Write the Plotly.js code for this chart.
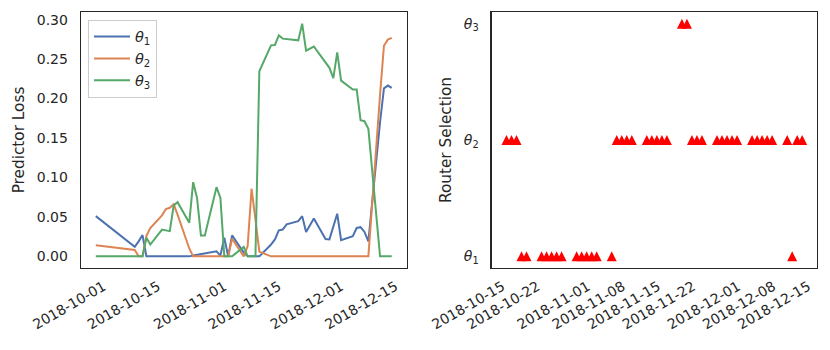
<!DOCTYPE html>
<html><head><meta charset="utf-8">
<script src="https://cdn.plot.ly/plotly-3.0.1.min.js"></script>
<style>html,body{margin:0;padding:0;background:#fff}</style>
</head><body><div id="chart" style="width:830px;height:350px"></div>
<script>
// ---- data ----
const lossDates = ['2018-09-28',
  '2018-10-08','2018-10-09','2018-10-10','2018-10-11','2018-10-12',
  '2018-10-15','2018-10-16','2018-10-17','2018-10-18','2018-10-19',
  '2018-10-22','2018-10-23','2018-10-24','2018-10-25','2018-10-26',
  '2018-10-29','2018-10-30','2018-10-31','2018-11-01','2018-11-02',
  '2018-11-05','2018-11-06','2018-11-07','2018-11-08','2018-11-09',
  '2018-11-12','2018-11-13','2018-11-14','2018-11-15','2018-11-16',
  '2018-11-19','2018-11-20','2018-11-21','2018-11-23',
  '2018-11-26','2018-11-27','2018-11-28','2018-11-29','2018-11-30',
  '2018-12-03','2018-12-04','2018-12-05','2018-12-06','2018-12-07',
  '2018-12-10','2018-12-11','2018-12-12','2018-12-13'];
const lossTheta1 = [0.051,
  0.012,0.019,0.027,0.0,0.0,
  0.0,0.0,0.0,0.0,0.0,
  0.0,0.001,0.002,0.003,0.004,
  0.0063,0.001,0.0236,0.0,0.0266,
  0.0047,0.0,0.0,0.0,0.0,
  0.015,0.0215,0.033,0.034,0.0405,
  0.0447,0.051,0.031,0.048,
  0.022,0.0215,0.038,0.054,0.0206,
  0.0257,0.036,0.037,0.031,0.019,
  0.17,0.213,0.2165,0.2135];
const lossTheta2 = [0.014,
  0.008,0.0,0.0,0.026,0.036,
  0.052,0.06,0.0616,0.066,0.053,
  0.01,0.0,0.0,0.0,0.0,
  0.0,0.0,0.0,0.0,0.0224,
  0.0,0.013,0.0857,0.047,0.006,
  0.0,0.0,0.0,0.0,0.0,
  0.0,0.0,0.0,0.0,
  0.0,0.0,0.0,0.0,0.0,
  0.0,0.0,0.0,0.0,0.0,
  0.205,0.267,0.2747,0.277];
const lossTheta3 = [0.0,
  0.0,0.0,0.0,0.0236,0.015,
  0.034,0.033,0.032,0.0645,0.0687,
  0.0426,0.094,0.074,0.0266,0.0266,
  0.0877,0.074,0.0,0.0,0.0,
  0.012,0.0,0.0,0.0,0.2346,
  0.2675,0.268,0.28,0.276,0.2755,
  0.2738,0.295,0.2608,0.266,
  0.246,0.239,0.226,0.2586,0.2228,
  0.2114,0.2114,0.1725,0.1713,0.1616,
  0.0,0.0,0.0,0.0];

const selDates = [
  '2018-10-15','2018-10-16','2018-10-17','2018-10-18','2018-10-19',
  '2018-10-22','2018-10-23','2018-10-24','2018-10-25','2018-10-26',
  '2018-10-29','2018-10-30','2018-10-31','2018-11-01','2018-11-02',
  '2018-11-05','2018-11-06','2018-11-07','2018-11-08','2018-11-09',
  '2018-11-12','2018-11-13','2018-11-14','2018-11-15','2018-11-16',
  '2018-11-19','2018-11-20','2018-11-21','2018-11-22','2018-11-23',
  '2018-11-26','2018-11-27','2018-11-28','2018-11-29','2018-11-30',
  '2018-12-03','2018-12-04','2018-12-05','2018-12-06','2018-12-07',
  '2018-12-10','2018-12-11','2018-12-12','2018-12-13'];
const selRouter = [
  1,1,1,0,0,
  0,0,0,0,0,
  0,0,0,0,0,
  0,1,1,1,1,
  1,1,1,1,1,
  2,2,1,1,1,
  1,1,1,1,1,
  1,1,1,1,1,
  1,0,1,1];

const seriesNames = ['<i>θ</i><sub>1</sub>','<i>θ</i><sub>2</sub>','<i>θ</i><sub>3</sub>'];
const seriesColors = ['#4c72b0','#dd8452','#55a868'];
const lossTickVals = [0, 0.05, 0.10, 0.15, 0.20, 0.25, 0.30];
const leftDateTicks = ['2018-10-01','2018-10-15','2018-11-01','2018-11-15','2018-12-01','2018-12-15'];
const rightDateTicks = ['2018-10-15','2018-10-22','2018-11-01','2018-11-08','2018-11-15','2018-11-22','2018-12-01','2018-12-08','2018-12-15'];
const routerTickVals = [0, 1, 2];

// ---- helpers: matplotlib-like 5% margins ----
function dateRange(ds) {
  const t = ds.map(d => new Date(d + 'T00:00:00Z').getTime());
  const lo = Math.min(...t), hi = Math.max(...t), m = (hi - lo) * 0.05;
  const f = v => new Date(v).toISOString().replace('T', ' ').slice(0, 19);
  return [f(lo - m), f(hi + m)];
}
function numRange(arrs) {
  const all = [].concat(...arrs);
  const lo = Math.min(...all), hi = Math.max(...all), m = (hi - lo) * 0.05;
  return [lo - m, hi + m];
}

const lossSeries = [lossTheta1, lossTheta2, lossTheta3];
const traces = lossSeries.map((ys, i) => ({
  type: 'scatter', mode: 'lines', x: lossDates, y: ys, name: seriesNames[i],
  line: {color: seriesColors[i], width: 2}, xaxis: 'x', yaxis: 'y'
}));
traces.push({
  type: 'scatter', mode: 'markers', x: selDates, y: selRouter, showlegend: false,
  marker: {symbol: 'arrow-down', angle: 180, standoff: 5, size: 10, color: '#ff0000', line: {width: 0}},
  xaxis: 'x2', yaxis: 'y2'
});

const tickFont = {family: 'DejaVu Sans', size: 14, color: '#262626'};
const titleFont = {family: 'DejaVu Sans', size: 15.3, color: '#262626'};
const frame = {showline: true, mirror: true, linecolor: '#262626', linewidth: 1.25,
  showgrid: false, zeroline: false, ticks: '', tickfont: tickFont};

const layout = {
  width: 830, height: 350,
  margin: {l: 81, r: 13, t: 12, b: 82},
  paper_bgcolor: '#ffffff', plot_bgcolor: '#ffffff',
  font: {family: 'DejaVu Sans', color: '#262626'},
  showlegend: true,
  legend: {x: 0.0095, y: 0.97, xanchor: 'left', yanchor: 'top',
    bgcolor: 'rgba(255,255,255,0.8)', bordercolor: '#cccccc', borderwidth: 1,
    itemwidth: 36,
    font: {family: 'DejaVu Sans', size: 14.5, color: '#262626'}, tracegroupgap: 0},
  xaxis: Object.assign({}, frame, {domain: [0, 0.4423], type: 'date',
    range: dateRange(lossDates), tickvals: leftDateTicks, tickformat: '%Y-%m-%d',
    tickangle: -30, ticklabelstandoff: 4, ticklabelshift: -4, anchor: 'y'}),
  yaxis: Object.assign({}, frame, {domain: [0, 1], range: numRange(lossSeries),
    tickvals: lossTickVals, tickformat: '.2f', ticklabelstandoff: 9, anchor: 'x',
    title: {text: 'Predictor Loss', font: titleFont, standoff: 8}}),
  xaxis2: Object.assign({}, frame, {domain: [0.558, 1], type: 'date',
    range: dateRange(selDates), tickvals: rightDateTicks, tickformat: '%Y-%m-%d',
    tickangle: -30, ticklabelstandoff: 4, ticklabelshift: -4, anchor: 'y2'}),
  yaxis2: Object.assign({}, frame, {domain: [0, 1], range: numRange([routerTickVals]),
    tickvals: routerTickVals, ticktext: seriesNames, ticklabelstandoff: 9, anchor: 'x2',
    title: {text: 'Router Selection', font: titleFont, standoff: 8}})
};

Plotly.newPlot('chart', traces, layout, {displayModeBar: false, staticPlot: true});
</script></body></html>
